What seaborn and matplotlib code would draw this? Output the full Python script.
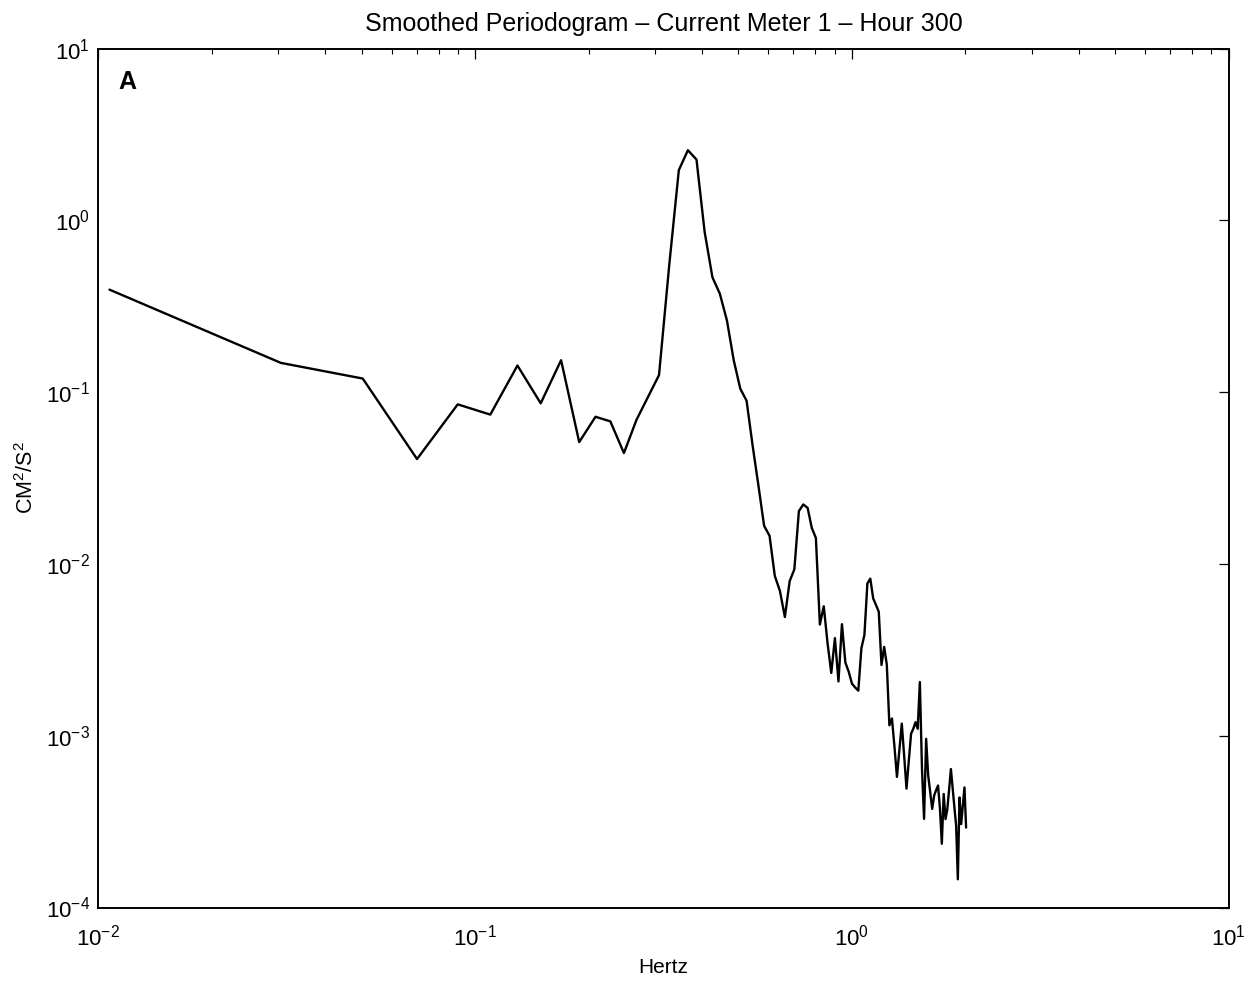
import matplotlib
matplotlib.use("Agg")
import matplotlib.pyplot as plt
import numpy as np
import pandas as pd
import seaborn as sns
from matplotlib.ticker import LogLocator, NullLocator, NullFormatter

# ---- data ----
freq_hz = [
    0.0107, 0.0305, 0.0503, 0.0701, 0.0899, 0.1097, 0.1295, 0.1493, 0.1691, 0.1889,
    0.2087, 0.2285, 0.2483, 0.2681, 0.2879, 0.3077, 0.3275, 0.3473, 0.3671, 0.3869,
    0.4067, 0.4265, 0.4463, 0.4661, 0.4859, 0.5057, 0.5255, 0.5453, 0.5651, 0.5849,
    0.6047, 0.6245, 0.6443, 0.6641, 0.6839, 0.7037, 0.7235, 0.7433, 0.7631, 0.7829,
    0.8027, 0.8225, 0.8423, 0.8621, 0.8819, 0.9017, 0.9215, 0.9413, 0.9611, 0.9809,
    1.0007, 1.0205, 1.0403, 1.0601, 1.0799, 1.0997, 1.1195, 1.1393, 1.1591, 1.1789,
    1.1987, 1.2185, 1.2383, 1.2581, 1.2779, 1.2977, 1.3175, 1.3373, 1.3571, 1.3769,
    1.3967, 1.4165, 1.4363, 1.4561, 1.4759, 1.4957, 1.5155, 1.5353, 1.5551, 1.5749,
    1.5947, 1.6145, 1.6343, 1.6541, 1.6739, 1.6937, 1.7135, 1.7333, 1.7531, 1.7729,
    1.7927, 1.8125, 1.8323, 1.8521, 1.8719, 1.8917, 1.9115, 1.9313, 1.9511, 1.9709,
    1.9907, 2.0105,
]
power = [
    0.395, 0.148, 0.120, 0.0408, 0.0849, 0.0740, 0.1429, 0.0861, 0.1534, 0.0512,
    0.0719, 0.0676, 0.0442, 0.0690, 0.0941, 0.1257, 0.548, 1.96, 2.56, 2.26,
    0.855, 0.466, 0.374, 0.261, 0.153, 0.1047, 0.0891, 0.0488, 0.0285, 0.01667,
    0.01458, 0.00851, 0.00696, 0.00491, 0.00795, 0.0093, 0.0203, 0.0222, 0.0212, 0.0162,
    0.01417, 0.00444, 0.00567, 0.00345, 0.00232, 0.0037, 0.00207, 0.00446, 0.00267, 0.00236,
    0.00201, 0.00191, 0.00183, 0.00323, 0.00386, 0.0077, 0.00821, 0.0063, 0.00577, 0.00527,
    0.00258, 0.00329, 0.00259, 0.00115, 0.00126, 0.000862, 0.000576, 0.000827, 0.001176, 0.000763,
    0.000492, 0.000714, 0.001027, 0.001098, 0.0012, 0.001098, 0.002054, 0.000642, 0.000328, 0.000959,
    0.000587, 0.000469, 0.000375, 0.000449, 0.000482, 0.000513, 0.000378, 0.000235, 0.000458, 0.000327,
    0.000374, 0.000488, 0.00064, 0.000494, 0.000383, 0.000300, 0.000146, 0.000437, 0.000306, 0.000393,
    0.000500, 0.000292,
]
title_text = "Smoothed Periodogram \u2013 Current Meter 1 \u2013 Hour 300"
x_label = "Hertz"
y_label = "CM$^2$/S$^2$"
panel_label = "A"
x_limits = (1e-2, 1e1)
y_limits = (1e-4, 1e1)

# ---- style ----
sns.set_theme(style="white")
plt.rcParams["font.family"] = ["Liberation Sans", "DejaVu Sans"]
plt.rcParams["mathtext.fontset"] = "custom"
plt.rcParams["mathtext.rm"] = "Liberation Sans"
plt.rcParams["mathtext.it"] = "Liberation Sans:italic"
plt.rcParams["mathtext.bf"] = "Liberation Sans:bold"
plt.rcParams["axes.unicode_minus"] = True

fig = plt.figure(figsize=(12.59, 9.81), dpi=100)
ax = fig.add_axes([0.0782, 0.0749, 0.8976, 0.8756])

df = pd.DataFrame({"Hertz": freq_hz, "Power": power})
sns.lineplot(data=df, x="Hertz", y="Power", ax=ax, color="black",
             linewidth=1.7, sort=False, estimator=None)

ax.set_xscale("log")
ax.set_yscale("log")
ax.set_xlim(*x_limits)
ax.set_ylim(*y_limits)

ax.xaxis.set_major_locator(LogLocator(base=10, numticks=10))
ax.xaxis.set_minor_locator(LogLocator(base=10, subs=np.arange(2, 10), numticks=20))
ax.xaxis.set_minor_formatter(NullFormatter())
ax.yaxis.set_major_locator(LogLocator(base=10, numticks=10))
ax.yaxis.set_minor_locator(NullLocator())

ax.tick_params(which="both", direction="in", top=True, right=True, colors="black")
ax.tick_params(which="major", length=7, width=0.9, labelsize=16)
ax.tick_params(which="minor", length=3.5, width=0.8)
ax.tick_params(axis="x", which="major", pad=12)
ax.tick_params(axis="y", which="major", pad=6)

for sp in ax.spines.values():
    sp.set_visible(True)
    sp.set_color("black")
    sp.set_linewidth(1.4)

ax.set_title(title_text, fontsize=18, pad=13, color="black")
ax.set_xlabel(x_label, fontsize=15, labelpad=6, color="black")
ax.set_ylabel(y_label, fontsize=15.5, labelpad=6, color="black")
ax.text(0.018, 0.961, panel_label, transform=ax.transAxes, fontsize=18,
        fontweight="bold", ha="left", va="center", color="black")

fig.savefig("out.png", dpi=100, facecolor="white")
